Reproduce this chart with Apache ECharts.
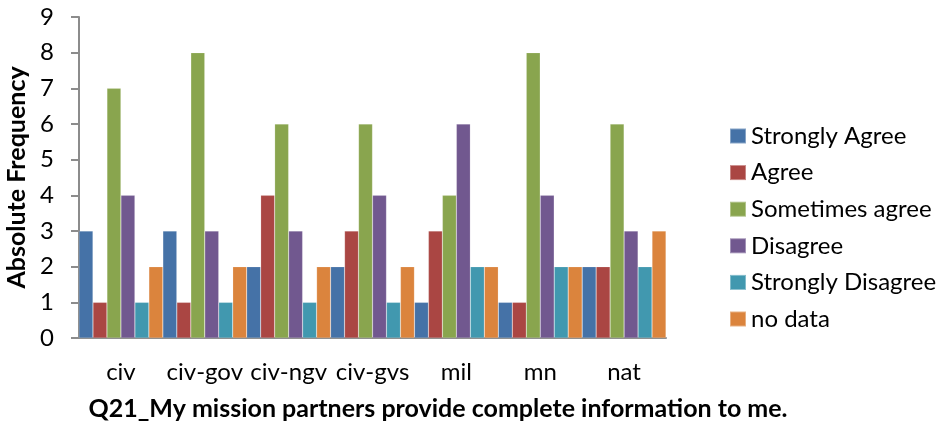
<!DOCTYPE html>
<html><head><meta charset="utf-8">
<script src="https://cdn.jsdelivr.net/npm/echarts@6/dist/echarts.min.js"></script>
<style>html,body{margin:0;padding:0;background:#fff}#c{width:942px;height:430px}</style>
</head><body><div id="c"></div>
<script>
const categories = ['civ','civ-gov','civ-ngv','civ-gvs','mil','mn','nat'];
const seriesNames = ['Strongly Agree','Agree','Sometimes agree','Disagree','Strongly Disagree','no data'];
const stronglyAgree    = [3,3,2,2,1,1,2];
const agree            = [1,1,4,3,3,1,2];
const sometimesAgree   = [7,8,6,6,4,8,6];
const disagree         = [4,3,3,4,6,4,3];
const stronglyDisagree = [1,1,1,1,2,2,2];
const noData           = [2,2,2,2,2,2,3];
const yTicks = [0,1,2,3,4,5,6,7,8,9];
const xTitle = 'Q21_My mission partners provide complete information to me.';
const colors = ['#4572A7','#AA4643','#89A54E','#71588F','#4198AF','#DB843D'];
const values = [stronglyAgree, agree, sometimesAgree, disagree, stronglyDisagree, noData];
const FONT = 'Lato, "Open Sans", sans-serif';

const chart = echarts.init(document.getElementById('c'), null, {renderer:'canvas'});
chart.setOption({
  animation:false,
  color: colors,
  textStyle:{fontFamily:FONT},
  title:{
    text:xTitle, left:438, top:396, textAlign:'center', padding:0,
    textStyle:{fontSize:25,fontWeight:'bold',color:'#000',fontFamily:FONT}
  },
  grid:{left:79,right:276,top:17,bottom:92,containLabel:false,outerBoundsMode:'none'},
  legend:{
    orient:'vertical', left:729, top:124, itemGap:12.6, padding:0,
    itemWidth:16, itemHeight:15, icon:'rect',
    textStyle:{fontSize:24,lineHeight:24,color:'#000',fontFamily:FONT,padding:[0,0,0,0]},
    data: seriesNames
  },
  xAxis:{
    type:'category', data:categories,
    axisLine:{lineStyle:{color:'#8c8c8c',width:2}},
    axisTick:{show:false},
    axisLabel:{color:'#000',fontSize:24,margin:22,interval:0,fontFamily:FONT}
  },
  yAxis:{
    type:'value', min:0, max:9, interval:1,
    axisLine:{show:true,lineStyle:{color:'#8c8c8c',width:2}},
    axisTick:{show:true,length:8,lineStyle:{color:'#8c8c8c',width:2}},
    splitLine:{show:false},
    axisLabel:{color:'#000',fontSize:24,margin:25,fontFamily:FONT,
      formatter:v=>yTicks.includes(v)?String(v):''},
    name:'Absolute Frequency', nameLocation:'middle', nameGap:47,
    nameTextStyle:{fontSize:25,fontWeight:'bold',color:'#000',fontFamily:FONT}
  },
  series: seriesNames.map((n,i)=>({
    name:n, type:'bar', data:values[i],
    barGap:'0%', barCategoryGap:'0%',
    itemStyle:{color:colors[i],borderColor:'rgba(255,255,255,0.35)',borderWidth:0.5}
  }))
});
</script></body></html>
